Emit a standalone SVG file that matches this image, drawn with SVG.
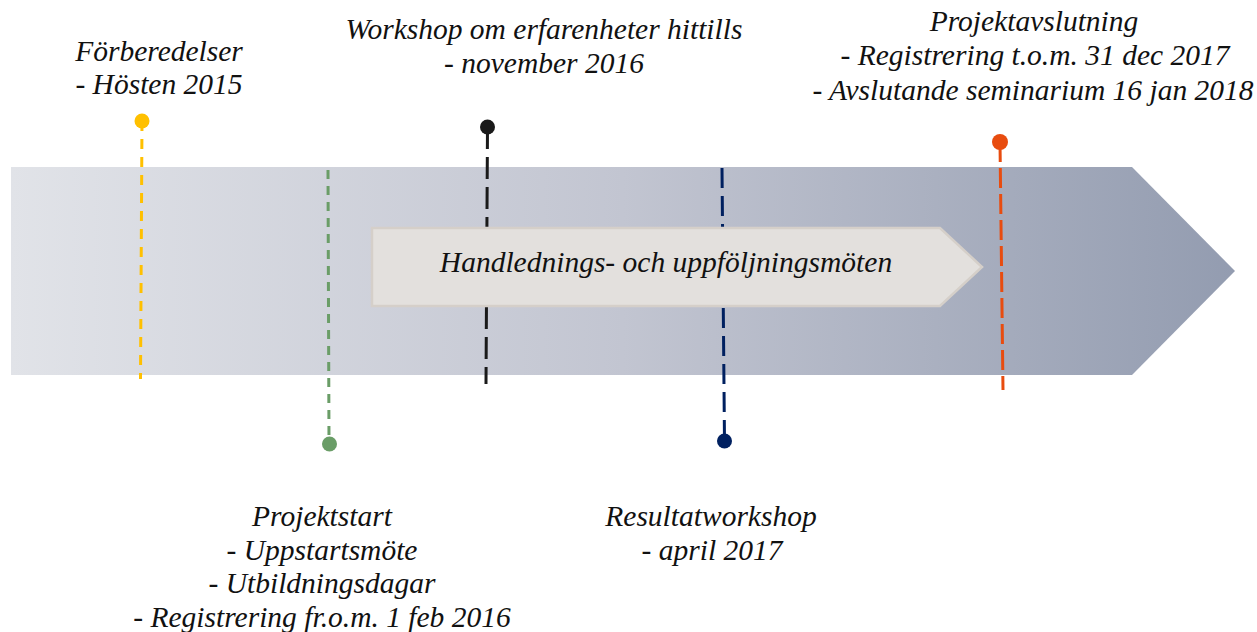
<svg xmlns="http://www.w3.org/2000/svg" width="1257" height="632" viewBox="0 0 1257 632">
  <defs>
    <linearGradient id="bandGrad" x1="11" y1="0" x2="1235" y2="0" gradientUnits="userSpaceOnUse">
      <stop offset="0" stop-color="#e1e3e8"/>
      <stop offset="0.5" stop-color="#c2c5d1"/>
      <stop offset="1" stop-color="#939cb0"/>
    </linearGradient>
    <style>
      text { font-family: "Liberation Serif", "Times New Roman", serif; font-style: italic; font-size: 29.5px; fill: #111; text-anchor: middle; }
      .stem { fill: none; stroke-width: 3; }
    </style>
  </defs>

  <!-- main timeline band -->
  <g id="band">
    <polygon points="11,167 1132,167 1235,271 1132,375 11,375" fill="url(#bandGrad)"/>
  </g>

  <!-- milestone stems -->
  <g id="connectors">
    <line class="stem" x1="142" y1="121" x2="140.5" y2="379" stroke="#ffc000" stroke-dasharray="10 8"/>
    <line class="stem" x1="328" y1="170" x2="329" y2="444" stroke="#6a9d67" stroke-width="2.5" stroke-dasharray="9 7"/>
    <line class="stem" x1="487.5" y1="127" x2="486" y2="384" stroke="#1a1a1a" stroke-dasharray="22 8"/>
    <line class="stem" x1="722" y1="168" x2="724.5" y2="441" stroke="#002060" stroke-width="2.5" stroke-dasharray="20 8"/>
    <line class="stem" x1="1000" y1="142" x2="1003" y2="390" stroke="#e84c0f" stroke-dasharray="20 6"/>
  </g>

  <!-- ongoing activity -->
  <g id="guidance">
    <polygon points="372,228 940,228 982,267 940,306 372,306" fill="#e3e0dd" stroke="#d5cfc9" stroke-width="2.5"/>
    <text x="666" y="272">Handlednings- och uppföljningsmöten</text>
  </g>

  <g id="preparations">
    <circle cx="142" cy="121" r="7.5" fill="#ffc000"/>
    <text x="159" y="61">Förberedelser</text>
    <text x="159" y="94">- Hösten 2015</text>
  </g>

  <g id="project-start">
    <circle cx="329.5" cy="444" r="7.5" fill="#6a9d67"/>
    <text x="322" y="526">Projektstart</text>
    <text x="322" y="559.5">- Uppstartsmöte</text>
    <text x="322" y="593">- Utbildningsdagar</text>
    <text x="322" y="626.5">- Registrering fr.o.m. 1 feb 2016</text>
  </g>

  <g id="workshop">
    <circle cx="487.5" cy="127" r="7.5" fill="#1a1a1a"/>
    <text x="544" y="38.5">Workshop om erfarenheter hittills</text>
    <text x="544" y="72.5">- november 2016</text>
  </g>

  <g id="result-workshop">
    <circle cx="724.5" cy="441" r="7.5" fill="#002060"/>
    <text x="711" y="526">Resultatworkshop</text>
    <text x="712" y="560">- april 2017</text>
  </g>

  <g id="project-end">
    <circle cx="1000" cy="142" r="8" fill="#e84c0f"/>
    <text x="1034" y="30.5">Projektavslutning</text>
    <text x="1035" y="65">- Registrering t.o.m. 31 dec 2017</text>
    <text x="1033" y="99.5">- Avslutande seminarium 16 jan 2018</text>
  </g>
</svg>
